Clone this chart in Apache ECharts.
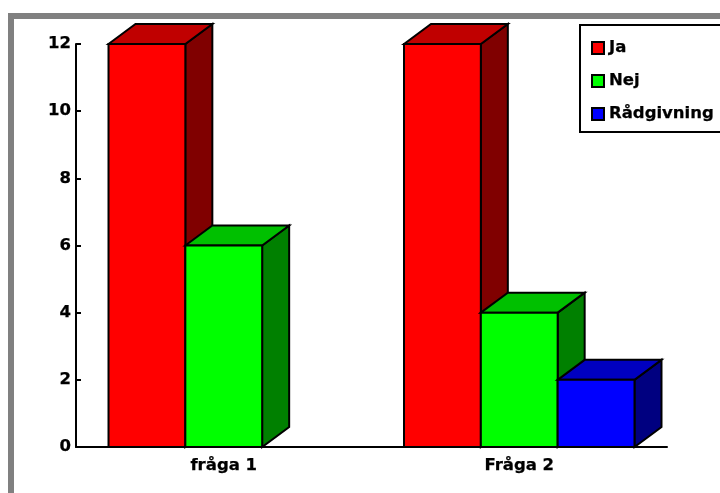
<!DOCTYPE html>
<html>
<head>
<meta charset="utf-8">
<style>
  html, body { margin: 0; padding: 0; background: #fff; }
  #chart { width: 720px; height: 493px; }
</style>
<script src="https://cdn.jsdelivr.net/npm/echarts@6/dist/echarts.min.js"></script>
</head>
<body>
<div id="chart"></div>
<script>
// Survey answers per question
const categories = ['fråga 1', 'Fråga 2'];
const ja = [12, 12];
const nej = [6, 4];
const radgivning = [0, 2];
const yTicks = [0, 2, 4, 6, 8, 10, 12];

// Face colours: front, top, side
const palettes = [
  { name: 'Ja', front: '#FF0000', top: '#C00000', side: '#800000' },
  { name: 'Nej', front: '#00FF00', top: '#00C000', side: '#008000' },
  { name: 'Rådgivning', front: '#0000FF', top: '#0000C0', side: '#000080' }
];
const seriesValues = [ja, nej, radgivning];

const DEPTH_X = 27, DEPTH_Y = 20;
const BAR_FRACTION = 0.26;
const FONT = '"DejaVu Sans", "Liberation Sans", Arial, sans-serif';
const FONT_SIZE = 16.5;
const stroke = { stroke: '#000', lineWidth: 2, lineJoin: 'miter' };
// Bold black label text
const labelText = {
  fontFamily: FONT, fontSize: FONT_SIZE, fontWeight: 'bold', color: '#000',
  textBorderColor: '#000', textBorderWidth: 0.25
};

function makeRenderer(seriesIdx, pal) {
  return function (params, api) {
    const cat = api.value(0);
    const val = api.value(1);
    if (!val) return null;
    const base = api.coord([cat, 0]);
    const top = api.coord([cat, val]);
    const band = api.size([1, 0])[0];
    const w = band * BAR_FRACTION;
    const x0 = base[0] - 1.5 * w + seriesIdx * w;
    const x1 = x0 + w;
    const yT = top[1], yB = base[1];
    return {
      type: 'group',
      children: [
        {
          type: 'polygon',
          shape: { points: [[x1, yT], [x1 + DEPTH_X, yT - DEPTH_Y], [x1 + DEPTH_X, yB - DEPTH_Y], [x1, yB]] },
          style: Object.assign({ fill: pal.side }, stroke)
        },
        {
          type: 'polygon',
          shape: { points: [[x0, yT], [x0 + DEPTH_X, yT - DEPTH_Y], [x1 + DEPTH_X, yT - DEPTH_Y], [x1, yT]] },
          style: Object.assign({ fill: pal.top }, stroke)
        },
        {
          type: 'rect',
          shape: { x: x0, y: yT, width: w, height: yB - yT },
          style: Object.assign({ fill: pal.front }, stroke)
        }
      ]
    };
  };
}

const series = palettes.map((pal, i) => ({
  type: 'custom',
  name: pal.name,
  renderItem: makeRenderer(i, pal),
  itemStyle: { color: pal.front },
  encode: { x: 0, y: 1 },
  data: seriesValues[i].map((v, c) => [c, v]),
  z: 2 + i
}));

const chart = echarts.init(document.getElementById('chart'), null, { renderer: 'canvas' });
chart.setOption({
  animation: false,
  backgroundColor: '#fff',
  textStyle: { fontFamily: FONT },
  grid: { left: 76, right: 53, top: 44, bottom: 46, containLabel: false },
  graphic: [{
    type: 'rect',
    shape: { x: 11, y: 16, width: 900, height: 700 },
    style: { fill: 'none', stroke: '#808080', lineWidth: 6 },
    silent: true,
    z: 100
  }],
  legend: {
    orient: 'vertical',
    left: 580,
    top: 25,
    padding: [14, 14, 9, 11],
    itemGap: 15,
    itemWidth: 12,
    itemHeight: 12,
    icon: 'rect',
    backgroundColor: '#fff',
    borderColor: '#000',
    borderWidth: 2,
    itemStyle: { borderColor: '#000', borderWidth: 2 },
    textStyle: Object.assign({ lineHeight: 18 }, labelText),
    data: palettes.map(p => p.name)
  },
  xAxis: {
    type: 'category',
    data: categories,
    axisLine: { lineStyle: { color: '#000', width: 2 } },
    axisTick: { inside: true, length: 6, lineStyle: { color: '#000', width: 2 } },
    axisLabel: Object.assign({ margin: 10 }, labelText),
    splitLine: { show: false }
  },
  yAxis: {
    type: 'value',
    min: yTicks[0],
    max: yTicks[yTicks.length - 1],
    interval: yTicks[1] - yTicks[0],
    axisLine: { show: true, lineStyle: { color: '#000', width: 2 } },
    axisTick: { show: true, inside: true, length: 5, lineStyle: { color: '#000', width: 2 } },
    axisLabel: Object.assign({ margin: 5 }, labelText),
    splitLine: { show: false }
  },
  series: series
});
</script>
</body>
</html>
